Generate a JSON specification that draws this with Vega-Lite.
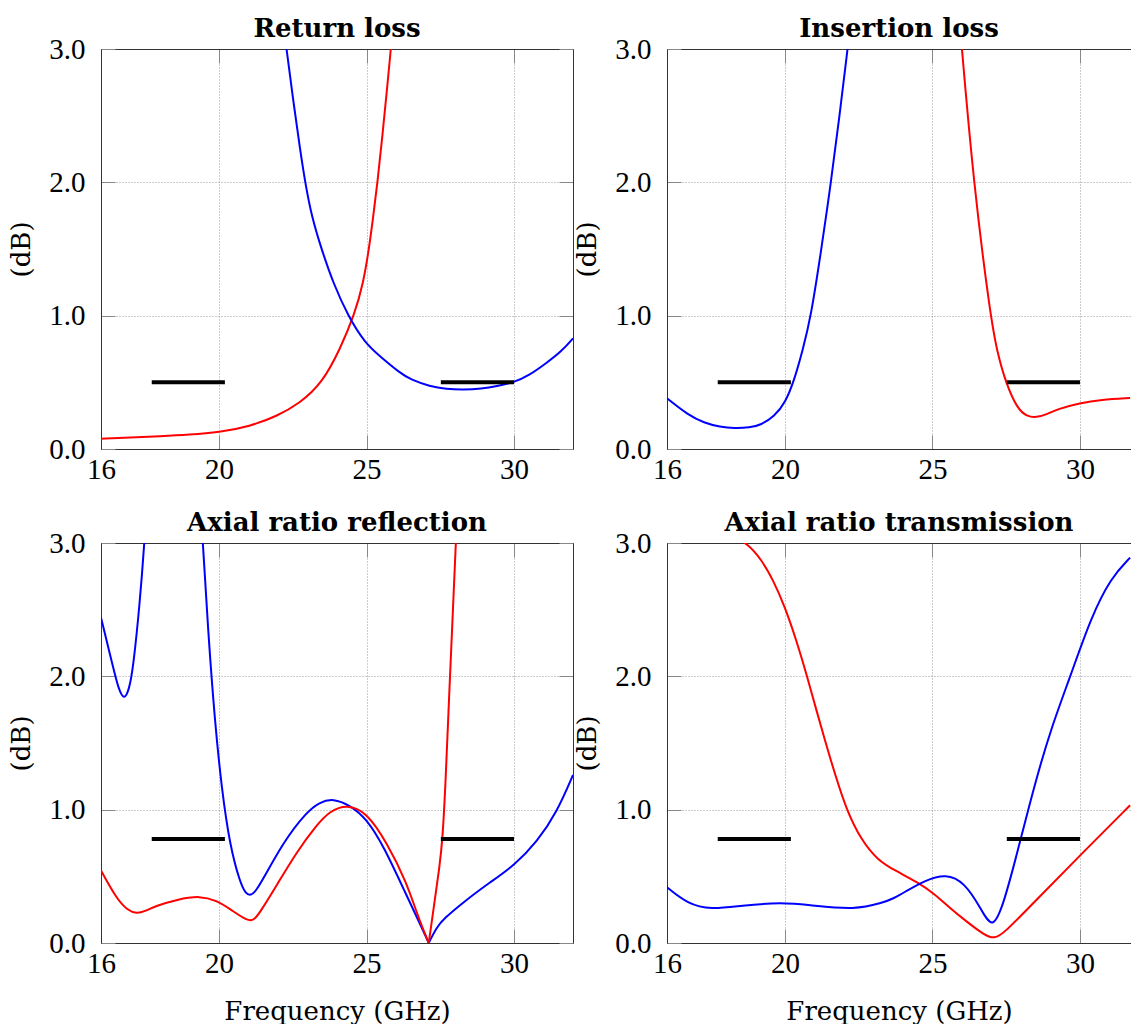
{
  "$schema": "https://vega.github.io/schema/vega-lite/v6.json",
  "padding": {"left": 8, "top": 16, "right": 0, "bottom": 0},
  "datasets": {
    "curves": [
      {"p":"RL","s":"r","g":1,"f":16,"v":0.077},
      {"p":"RL","s":"r","g":1,"f":17,"v":0.085},
      {"p":"RL","s":"r","g":1,"f":18,"v":0.095},
      {"p":"RL","s":"r","g":1,"f":19,"v":0.107},
      {"p":"RL","s":"r","g":1,"f":20,"v":0.125},
      {"p":"RL","s":"r","g":1,"f":21.05,"v":0.17},
      {"p":"RL","s":"r","g":1,"f":21.96,"v":0.245},
      {"p":"RL","s":"r","g":1,"f":22.75,"v":0.345},
      {"p":"RL","s":"r","g":1,"f":23.48,"v":0.49},
      {"p":"RL","s":"r","g":1,"f":24.1,"v":0.745},
      {"p":"RL","s":"r","g":1,"f":24.61,"v":1.02},
      {"p":"RL","s":"r","g":1,"f":24.89,"v":1.245},
      {"p":"RL","s":"r","g":1,"f":25.08,"v":1.495},
      {"p":"RL","s":"r","g":1,"f":25.23,"v":1.745},
      {"p":"RL","s":"r","g":1,"f":25.37,"v":2.0},
      {"p":"RL","s":"r","g":1,"f":25.51,"v":2.28},
      {"p":"RL","s":"r","g":1,"f":25.83,"v":3.0},
      {"p":"RL","s":"r","g":1,"f":26.0,"v":3.45},
      {"p":"RL","s":"b","g":1,"f":22.2,"v":3.15},
      {"p":"RL","s":"b","g":1,"f":22.29,"v":3.0},
      {"p":"RL","s":"b","g":1,"f":22.5,"v":2.64},
      {"p":"RL","s":"b","g":1,"f":22.75,"v":2.245},
      {"p":"RL","s":"b","g":1,"f":22.92,"v":2.0},
      {"p":"RL","s":"b","g":1,"f":23.14,"v":1.745},
      {"p":"RL","s":"b","g":1,"f":23.48,"v":1.495},
      {"p":"RL","s":"b","g":1,"f":23.87,"v":1.245},
      {"p":"RL","s":"b","g":1,"f":24.38,"v":0.995},
      {"p":"RL","s":"b","g":1,"f":24.95,"v":0.795},
      {"p":"RL","s":"b","g":1,"f":25.46,"v":0.695},
      {"p":"RL","s":"b","g":1,"f":26.14,"v":0.57},
      {"p":"RL","s":"b","g":1,"f":26.5,"v":0.52},
      {"p":"RL","s":"b","g":1,"f":27.15,"v":0.47},
      {"p":"RL","s":"b","g":1,"f":27.7,"v":0.45},
      {"p":"RL","s":"b","g":1,"f":28.28,"v":0.445},
      {"p":"RL","s":"b","g":1,"f":28.9,"v":0.452},
      {"p":"RL","s":"b","g":1,"f":29.41,"v":0.47},
      {"p":"RL","s":"b","g":1,"f":30,"v":0.5},
      {"p":"RL","s":"b","g":1,"f":30.5,"v":0.55},
      {"p":"RL","s":"b","g":1,"f":31.1,"v":0.645},
      {"p":"RL","s":"b","g":1,"f":31.6,"v":0.73},
      {"p":"RL","s":"b","g":1,"f":32,"v":0.83},

      {"p":"IL","s":"b","g":1,"f":16,"v":0.38},
      {"p":"IL","s":"b","g":1,"f":16.7,"v":0.257},
      {"p":"IL","s":"b","g":1,"f":17.26,"v":0.195},
      {"p":"IL","s":"b","g":1,"f":17.8,"v":0.165},
      {"p":"IL","s":"b","g":1,"f":18.28,"v":0.155},
      {"p":"IL","s":"b","g":1,"f":18.8,"v":0.16},
      {"p":"IL","s":"b","g":1,"f":19.19,"v":0.18},
      {"p":"IL","s":"b","g":1,"f":19.64,"v":0.245},
      {"p":"IL","s":"b","g":1,"f":20.01,"v":0.345},
      {"p":"IL","s":"b","g":1,"f":20.32,"v":0.52},
      {"p":"IL","s":"b","g":1,"f":20.6,"v":0.74},
      {"p":"IL","s":"b","g":1,"f":20.88,"v":0.995},
      {"p":"IL","s":"b","g":1,"f":21.2,"v":1.45},
      {"p":"IL","s":"b","g":1,"f":21.56,"v":2.0},
      {"p":"IL","s":"b","g":1,"f":21.85,"v":2.5},
      {"p":"IL","s":"b","g":1,"f":22.12,"v":3.0},
      {"p":"IL","s":"b","g":1,"f":22.2,"v":3.15},
      {"p":"IL","s":"r","g":1,"f":25.95,"v":3.12},
      {"p":"IL","s":"r","g":1,"f":26.0,"v":3.0},
      {"p":"IL","s":"r","g":1,"f":26.39,"v":2.0},
      {"p":"IL","s":"r","g":1,"f":26.96,"v":1.0},
      {"p":"IL","s":"r","g":1,"f":27.2,"v":0.72},
      {"p":"IL","s":"r","g":1,"f":27.49,"v":0.495},
      {"p":"IL","s":"r","g":1,"f":27.88,"v":0.3},
      {"p":"IL","s":"r","g":1,"f":28.2,"v":0.245},
      {"p":"IL","s":"r","g":1,"f":28.51,"v":0.235},
      {"p":"IL","s":"r","g":1,"f":28.9,"v":0.262},
      {"p":"IL","s":"r","g":1,"f":29.24,"v":0.3},
      {"p":"IL","s":"r","g":1,"f":30,"v":0.345},
      {"p":"IL","s":"r","g":1,"f":30.71,"v":0.37},
      {"p":"IL","s":"r","g":1,"f":31.7,"v":0.382},

      {"p":"ARr","s":"b","g":1,"f":16,"v":2.44},
      {"p":"ARr","s":"b","g":1,"f":16.42,"v":2.06},
      {"p":"ARr","s":"b","g":1,"f":16.6,"v":1.9},
      {"p":"ARr","s":"b","g":1,"f":16.79,"v":1.82},
      {"p":"ARr","s":"b","g":1,"f":16.95,"v":1.9},
      {"p":"ARr","s":"b","g":1,"f":17.09,"v":2.06},
      {"p":"ARr","s":"b","g":1,"f":17.32,"v":2.56},
      {"p":"ARr","s":"b","g":1,"f":17.47,"v":3.0},
      {"p":"ARr","s":"b","g":1,"f":17.55,"v":3.3},
      {"p":"ARr","s":"b","g":1,"f":19.38,"v":3.3},
      {"p":"ARr","s":"b","g":1,"f":19.45,"v":3.0},
      {"p":"ARr","s":"b","g":1,"f":19.64,"v":2.31},
      {"p":"ARr","s":"b","g":1,"f":19.86,"v":1.66},
      {"p":"ARr","s":"b","g":1,"f":20.09,"v":1.16},
      {"p":"ARr","s":"b","g":1,"f":20.37,"v":0.73},
      {"p":"ARr","s":"b","g":1,"f":20.71,"v":0.456},
      {"p":"ARr","s":"b","g":1,"f":20.9,"v":0.37},
      {"p":"ARr","s":"b","g":1,"f":21.08,"v":0.355},
      {"p":"ARr","s":"b","g":1,"f":21.25,"v":0.39},
      {"p":"ARr","s":"b","g":1,"f":21.5,"v":0.48},
      {"p":"ARr","s":"b","g":1,"f":22.18,"v":0.757},
      {"p":"ARr","s":"b","g":1,"f":22.97,"v":0.983},
      {"p":"ARr","s":"b","g":1,"f":23.4,"v":1.055},
      {"p":"ARr","s":"b","g":1,"f":23.87,"v":1.085},
      {"p":"ARr","s":"b","g":1,"f":24.44,"v":1.033},
      {"p":"ARr","s":"b","g":1,"f":25,"v":0.933},
      {"p":"ARr","s":"b","g":1,"f":25.57,"v":0.732},
      {"p":"ARr","s":"b","g":1,"f":26.36,"v":0.356},
      {"p":"ARr","s":"b","g":1,"f":26.8,"v":0.15},
      {"p":"ARr","s":"b","g":1,"f":27.11,"v":0.0},
      {"p":"ARr","s":"b","g":2,"f":27.11,"v":0.0},
      {"p":"ARr","s":"b","g":2,"f":27.38,"v":0.117},
      {"p":"ARr","s":"b","g":2,"f":27.61,"v":0.18},
      {"p":"ARr","s":"b","g":2,"f":28.28,"v":0.306},
      {"p":"ARr","s":"b","g":2,"f":29.19,"v":0.456},
      {"p":"ARr","s":"b","g":2,"f":30,"v":0.58},
      {"p":"ARr","s":"b","g":2,"f":30.78,"v":0.757},
      {"p":"ARr","s":"b","g":2,"f":31.46,"v":0.983},
      {"p":"ARr","s":"b","g":2,"f":32,"v":1.26},
      {"p":"ARr","s":"r","g":1,"f":16,"v":0.544},
      {"p":"ARr","s":"r","g":1,"f":16.53,"v":0.331},
      {"p":"ARr","s":"r","g":1,"f":16.9,"v":0.245},
      {"p":"ARr","s":"r","g":1,"f":17.21,"v":0.22},
      {"p":"ARr","s":"r","g":1,"f":17.5,"v":0.24},
      {"p":"ARr","s":"r","g":1,"f":17.89,"v":0.28},
      {"p":"ARr","s":"r","g":1,"f":18.57,"v":0.326},
      {"p":"ARr","s":"r","g":1,"f":19.36,"v":0.355},
      {"p":"ARr","s":"r","g":1,"f":19.92,"v":0.318},
      {"p":"ARr","s":"r","g":1,"f":20.37,"v":0.256},
      {"p":"ARr","s":"r","g":1,"f":20.99,"v":0.16},
      {"p":"ARr","s":"r","g":1,"f":21.2,"v":0.175},
      {"p":"ARr","s":"r","g":1,"f":21.39,"v":0.23},
      {"p":"ARr","s":"r","g":1,"f":21.95,"v":0.431},
      {"p":"ARr","s":"r","g":1,"f":22.63,"v":0.682},
      {"p":"ARr","s":"r","g":1,"f":23.3,"v":0.883},
      {"p":"ARr","s":"r","g":1,"f":23.76,"v":0.99},
      {"p":"ARr","s":"r","g":1,"f":24.33,"v":1.04},
      {"p":"ARr","s":"r","g":1,"f":25,"v":0.983},
      {"p":"ARr","s":"r","g":1,"f":25.68,"v":0.757},
      {"p":"ARr","s":"r","g":1,"f":26.36,"v":0.456},
      {"p":"ARr","s":"r","g":1,"f":26.73,"v":0.206},
      {"p":"ARr","s":"r","g":1,"f":27.11,"v":0.0},
      {"p":"ARr","s":"r","g":2,"f":27.11,"v":0.0},
      {"p":"ARr","s":"r","g":2,"f":27.3,"v":0.3},
      {"p":"ARr","s":"r","g":2,"f":27.47,"v":0.56},
      {"p":"ARr","s":"r","g":2,"f":27.58,"v":0.78},
      {"p":"ARr","s":"r","g":2,"f":27.68,"v":1.2},
      {"p":"ARr","s":"r","g":2,"f":27.8,"v":1.85},
      {"p":"ARr","s":"r","g":2,"f":27.92,"v":2.45},
      {"p":"ARr","s":"r","g":2,"f":28.03,"v":3.0},
      {"p":"ARr","s":"r","g":2,"f":28.1,"v":3.4},

      {"p":"ARt","s":"r","g":1,"f":17.9,"v":3.06},
      {"p":"ARt","s":"r","g":1,"f":18.3,"v":3.04},
      {"p":"ARt","s":"r","g":1,"f":18.7,"v":3.0},
      {"p":"ARt","s":"r","g":1,"f":19.2,"v":2.877},
      {"p":"ARt","s":"r","g":1,"f":19.59,"v":2.726},
      {"p":"ARt","s":"r","g":1,"f":19.99,"v":2.525},
      {"p":"ARt","s":"r","g":1,"f":20.38,"v":2.275},
      {"p":"ARt","s":"r","g":1,"f":20.75,"v":2.0},
      {"p":"ARt","s":"r","g":1,"f":21.03,"v":1.773},
      {"p":"ARt","s":"r","g":1,"f":21.35,"v":1.522},
      {"p":"ARt","s":"r","g":1,"f":21.69,"v":1.27},
      {"p":"ARt","s":"r","g":1,"f":22.08,"v":1.0},
      {"p":"ARt","s":"r","g":1,"f":22.59,"v":0.77},
      {"p":"ARt","s":"r","g":1,"f":23.15,"v":0.62},
      {"p":"ARt","s":"r","g":1,"f":23.72,"v":0.544},
      {"p":"ARt","s":"r","g":1,"f":24.5,"v":0.456},
      {"p":"ARt","s":"r","g":1,"f":25.06,"v":0.369},
      {"p":"ARt","s":"r","g":1,"f":25.6,"v":0.26},
      {"p":"ARt","s":"r","g":1,"f":26.19,"v":0.155},
      {"p":"ARt","s":"r","g":1,"f":26.76,"v":0.06},
      {"p":"ARt","s":"r","g":1,"f":27.1,"v":0.03},
      {"p":"ARt","s":"r","g":1,"f":27.43,"v":0.075},
      {"p":"ARt","s":"r","g":1,"f":28.45,"v":0.306},
      {"p":"ARt","s":"r","g":1,"f":30,"v":0.657},
      {"p":"ARt","s":"r","g":1,"f":31.7,"v":1.033},
      {"p":"ARt","s":"b","g":1,"f":16,"v":0.418},
      {"p":"ARt","s":"b","g":1,"f":16.7,"v":0.293},
      {"p":"ARt","s":"b","g":1,"f":17.49,"v":0.25},
      {"p":"ARt","s":"b","g":1,"f":18.51,"v":0.28},
      {"p":"ARt","s":"b","g":1,"f":19.86,"v":0.306},
      {"p":"ARt","s":"b","g":1,"f":20.99,"v":0.28},
      {"p":"ARt","s":"b","g":1,"f":22.35,"v":0.25},
      {"p":"ARt","s":"b","g":1,"f":23.3,"v":0.3},
      {"p":"ARt","s":"b","g":1,"f":23.7,"v":0.336},
      {"p":"ARt","s":"b","g":1,"f":24.05,"v":0.381},
      {"p":"ARt","s":"b","g":1,"f":24.73,"v":0.469},
      {"p":"ARt","s":"b","g":1,"f":25.46,"v":0.52},
      {"p":"ARt","s":"b","g":1,"f":26.08,"v":0.456},
      {"p":"ARt","s":"b","g":1,"f":26.64,"v":0.26},
      {"p":"ARt","s":"b","g":1,"f":27.04,"v":0.09},
      {"p":"ARt","s":"b","g":1,"f":27.43,"v":0.306},
      {"p":"ARt","s":"b","g":1,"f":27.88,"v":0.682},
      {"p":"ARt","s":"b","g":1,"f":28.45,"v":1.18},
      {"p":"ARt","s":"b","g":1,"f":29.02,"v":1.61},
      {"p":"ARt","s":"b","g":1,"f":29.69,"v":2.01},
      {"p":"ARt","s":"b","g":1,"f":30.37,"v":2.44},
      {"p":"ARt","s":"b","g":1,"f":31.05,"v":2.74},
      {"p":"ARt","s":"b","g":1,"f":31.7,"v":2.89}
    ],
    "bars": [
      {"p":"RL","a":17.72,"b":20.2,"v":0.5},
      {"p":"RL","a":27.52,"b":30.0,"v":0.5},
      {"p":"IL","a":17.72,"b":20.2,"v":0.5},
      {"p":"IL","a":27.52,"b":30.0,"v":0.5},
      {"p":"ARr","a":17.72,"b":20.2,"v":0.78},
      {"p":"ARr","a":27.52,"b":30.0,"v":0.78},
      {"p":"ARt","a":17.72,"b":20.2,"v":0.78},
      {"p":"ARt","a":27.52,"b":30.0,"v":0.78}
    ]
  },
  "columns": 2,
  "spacing": {"row": 94, "column": 94},
  "bounds": "flush",
  "concat": [
    {
      "width": 472, "height": 400,
      "title": "Return loss",
      "layer": [
        {"data": {"name": "curves"}, "transform": [{"filter": "datum.p === 'RL'"}],
         "mark": {"type": "line", "clip": true, "interpolate": "basis", "strokeWidth": 2},
         "encoding": {
           "x": {"field": "f", "type": "quantitative", "scale": {"domain": [16, 32], "nice": false, "zero": false}, "axis": {"orient": "bottom", "values": [16, 20, 25, 30], "title": null, "grid": true}},
           "y": {"field": "v", "type": "quantitative", "scale": {"domain": [0, 3], "nice": false}, "axis": {"orient": "left", "values": [0, 1, 2, 3], "format": ".1f", "title": "(dB)", "grid": true}},
           "color": {"field": "s", "type": "nominal", "scale": {"domain": ["r", "b"], "range": ["#ff0000", "#0000ff"]}, "legend": null},
           "detail": {"field": "g", "type": "nominal"}
         }},
        {"data": {"name": "bars"}, "transform": [{"filter": "datum.p === 'RL'"}],
         "mark": {"type": "rule", "strokeWidth": 4, "color": "black"},
         "encoding": {
           "x": {"field": "a", "type": "quantitative", "scale": {"domain": [16, 32], "nice": false, "zero": false}, "axis": {"orient": "top", "values": [16, 20, 25, 30], "labels": false, "title": null, "grid": false}},
           "x2": {"field": "b"},
           "y": {"field": "v", "type": "quantitative", "scale": {"domain": [0, 3], "nice": false}, "axis": {"orient": "right", "values": [0, 1, 2, 3], "labels": false, "title": null, "grid": false}}
         }}
      ],
      "resolve": {"axis": {"x": "independent", "y": "independent"}}
    },
    {
      "width": 464, "height": 400,
      "title": "Insertion loss",
      "layer": [
        {"data": {"name": "curves"}, "transform": [{"filter": "datum.p === 'IL'"}],
         "mark": {"type": "line", "clip": true, "interpolate": "basis", "strokeWidth": 2},
         "encoding": {
           "x": {"field": "f", "type": "quantitative", "scale": {"domain": [16, 31.73], "nice": false, "zero": false}, "axis": {"orient": "bottom", "values": [16, 20, 25, 30], "title": null, "grid": true}},
           "y": {"field": "v", "type": "quantitative", "scale": {"domain": [0, 3], "nice": false}, "axis": {"orient": "left", "values": [0, 1, 2, 3], "format": ".1f", "title": "(dB)", "grid": true}},
           "color": {"field": "s", "type": "nominal", "scale": {"domain": ["r", "b"], "range": ["#ff0000", "#0000ff"]}, "legend": null},
           "detail": {"field": "g", "type": "nominal"}
         }},
        {"data": {"name": "bars"}, "transform": [{"filter": "datum.p === 'IL'"}],
         "mark": {"type": "rule", "strokeWidth": 4, "color": "black"},
         "encoding": {
           "x": {"field": "a", "type": "quantitative", "scale": {"domain": [16, 31.73], "nice": false, "zero": false}, "axis": {"orient": "top", "values": [16, 20, 25, 30], "labels": false, "title": null, "grid": false}},
           "x2": {"field": "b"},
           "y": {"field": "v", "type": "quantitative", "scale": {"domain": [0, 3], "nice": false}, "axis": null}
         }}
      ],
      "resolve": {"axis": {"x": "independent", "y": "independent"}}
    },
    {
      "width": 472, "height": 400,
      "title": "Axial ratio reflection",
      "layer": [
        {"data": {"name": "curves"}, "transform": [{"filter": "datum.p === 'ARr'"}],
         "mark": {"type": "line", "clip": true, "interpolate": "basis", "strokeWidth": 2},
         "encoding": {
           "x": {"field": "f", "type": "quantitative", "scale": {"domain": [16, 32], "nice": false, "zero": false}, "axis": {"orient": "bottom", "values": [16, 20, 25, 30], "title": "Frequency (GHz)", "grid": true}},
           "y": {"field": "v", "type": "quantitative", "scale": {"domain": [0, 3], "nice": false}, "axis": {"orient": "left", "values": [0, 1, 2, 3], "format": ".1f", "title": "(dB)", "grid": true}},
           "color": {"field": "s", "type": "nominal", "scale": {"domain": ["r", "b"], "range": ["#ff0000", "#0000ff"]}, "legend": null},
           "detail": {"field": "g", "type": "nominal"}
         }},
        {"data": {"name": "bars"}, "transform": [{"filter": "datum.p === 'ARr'"}],
         "mark": {"type": "rule", "strokeWidth": 4, "color": "black"},
         "encoding": {
           "x": {"field": "a", "type": "quantitative", "scale": {"domain": [16, 32], "nice": false, "zero": false}, "axis": {"orient": "top", "values": [16, 20, 25, 30], "labels": false, "title": null, "grid": false}},
           "x2": {"field": "b"},
           "y": {"field": "v", "type": "quantitative", "scale": {"domain": [0, 3], "nice": false}, "axis": {"orient": "right", "values": [0, 1, 2, 3], "labels": false, "title": null, "grid": false}}
         }}
      ],
      "resolve": {"axis": {"x": "independent", "y": "independent"}}
    },
    {
      "width": 464, "height": 400,
      "title": "Axial ratio transmission",
      "layer": [
        {"data": {"name": "curves"}, "transform": [{"filter": "datum.p === 'ARt'"}],
         "mark": {"type": "line", "clip": true, "interpolate": "basis", "strokeWidth": 2},
         "encoding": {
           "x": {"field": "f", "type": "quantitative", "scale": {"domain": [16, 31.73], "nice": false, "zero": false}, "axis": {"orient": "bottom", "values": [16, 20, 25, 30], "title": "Frequency (GHz)", "grid": true}},
           "y": {"field": "v", "type": "quantitative", "scale": {"domain": [0, 3], "nice": false}, "axis": {"orient": "left", "values": [0, 1, 2, 3], "format": ".1f", "title": "(dB)", "grid": true}},
           "color": {"field": "s", "type": "nominal", "scale": {"domain": ["r", "b"], "range": ["#ff0000", "#0000ff"]}, "legend": null},
           "detail": {"field": "g", "type": "nominal"}
         }},
        {"data": {"name": "bars"}, "transform": [{"filter": "datum.p === 'ARt'"}],
         "mark": {"type": "rule", "strokeWidth": 4, "color": "black"},
         "encoding": {
           "x": {"field": "a", "type": "quantitative", "scale": {"domain": [16, 31.73], "nice": false, "zero": false}, "axis": {"orient": "top", "values": [16, 20, 25, 30], "labels": false, "title": null, "grid": false}},
           "x2": {"field": "b"},
           "y": {"field": "v", "type": "quantitative", "scale": {"domain": [0, 3], "nice": false}, "axis": null}
         }}
      ],
      "resolve": {"axis": {"x": "independent", "y": "independent"}}
    }
  ],
  "config": {
    "font": "DejaVu Serif",
    "view": {"stroke": null},
    "axis": {
      "labelFont": "Liberation Serif", "titleFont": "DejaVu Serif",
      "labelFontSize": 29, "titleFontSize": 26,
      "labelColor": "black", "titleColor": "black", "titleFontWeight": "normal",
      "domainColor": "#333", "domainWidth": 1,
      "tickColor": "#888", "tickSize": -14, "tickWidth": 1,
      "gridColor": "#999", "gridDash": [1, 2], "gridWidth": 1, "gridOpacity": 1,
      "labelFlush": false
    },
    "axisY": {"titlePadding": 14, "labelPadding": 30},
    "axisX": {"titlePadding": 20, "labelPadding": 20},
    "title": {"font": "DejaVu Serif", "fontSize": 26, "fontWeight": "bold", "color": "black", "offset": -7}
  }
}
